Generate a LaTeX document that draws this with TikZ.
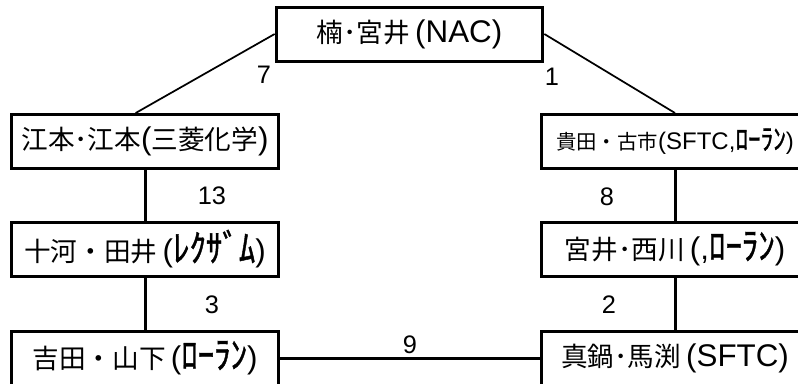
\documentclass[tikz,border=0pt]{standalone}
\usepackage{fontspec}
\setmainfont{Liberation Sans}
\newfontfamily\jpfont[Scale=0.85]{Noto Sans CJK JP}
\newfontfamily\kanafont[FakeBold=1.2]{Noto Sans CJK JP}
\tikzset{team/.style={draw, line width=2.25pt, minimum width=200pt, minimum height=40.5pt,
    inner sep=0pt, font=\fontsize{23.5pt}{26pt}\selectfont}}
\tikzset{score/.style={inner sep=0pt, font=\fontsize{19pt}{22pt}\selectfont}}
\tikzset{link/.style={line width=2.25pt}}
\newcommand{\kj}[1]{{\jpfont #1}}
\newcommand{\kana}[1]{\scalebox{1.05}[1.2]{\kanafont #1}}

\begin{document}
\begin{tikzpicture}[x=0.75pt,y=-0.75pt]
	\useasboundingbox (0,0) rectangle (798,383);
	\clip (0,0) rectangle (798,383);

	\node[team] (nac) at (409.5,34) {\kj{楠･宮井}\,(NAC)};

	\node[team] (emoto) at (145,141.5) {\kj{江本･江本}(\kj{三菱化学})};
	\node[team] (sogo) at (145,249) {\kj{十河・田井}\,(\kana{ﾚｸｻﾞﾑ})};
	\node[team] (yoshida) at (145,358) {\kj{吉田・山下}\,(\kana{ﾛｰﾗﾝ})};

	\node[team, font=\fontsize{18pt}{21pt}\selectfont] (kida) at (675,141.5) {\kj{貴田・古市}(SFTC,\kana{ﾛｰﾗﾝ})};
	\node[team] (miyai) at (675,249) {\kj{宮井･西川}\,(,\kana{ﾛｰﾗﾝ})};
	\node[team] (manabe) at (675,358) {\kj{真鍋･馬渕}\,(SFTC)};

	\draw[line width=1.3pt] (nac.west) -- ([xshift=-7pt]emoto.north);
	\draw[line width=1.3pt] (nac.east) -- (kida.north);
	\draw[link] (emoto) -- (sogo);
	\draw[link] (sogo) -- (yoshida);
	\draw[link] (kida) -- (miyai);
	\draw[link] (miyai) -- (manabe);
	\draw[link] (yoshida.east) -- (manabe.west);

	\node[score] (s7) at (264,75) {7};
	\node[score] (s1) at (552,77) {1};
	\node[score] (s13) at (212,196) {13};
	\node[score] (s8) at (607,197) {8};
	\node[score] (s3) at (212,305) {3};
	\node[score] (s2) at (609,305) {2};
	\node[score] (s9) at (410,345) {9};
\end{tikzpicture}
\end{document}
